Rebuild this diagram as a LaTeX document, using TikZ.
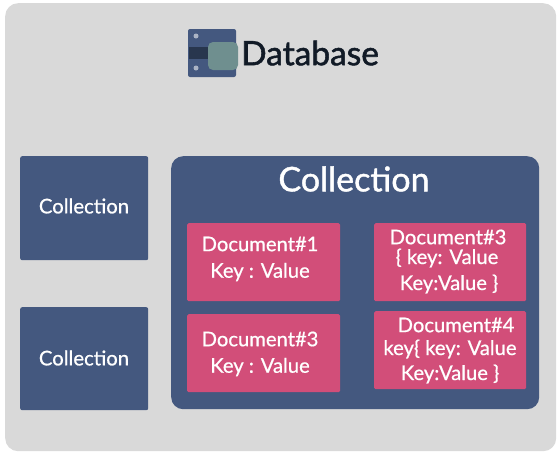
\documentclass[tikz,border=0pt]{standalone}
\usepackage{fontspec}
\setmainfont{Lato}[FakeBold=0.7]
\newfontfamily\headfont{Lato}[FakeBold=1.6]
\newfontfamily\bigfont{Lato}[FakeBold=1.2]
\definecolor{bg}{HTML}{D9D9D9}
\definecolor{navy}{HTML}{44587F}
\definecolor{rosered}{HTML}{D24E79}
\definecolor{teal2}{HTML}{6F8F8F}
\definecolor{ink}{HTML}{111A26}
\tikzset{
  coll/.style={fill=navy,rounded corners=2pt,anchor=north west,inner sep=0pt},
  docbox/.style={fill=rosered,rounded corners=1.5pt,anchor=north west,inner sep=0pt},
  wtext/.style={text=white,inner sep=0pt,font=\fontsize{20.3}{20.3}\selectfont},
  dtext/.style={text=white,inner sep=0pt,font=\fontsize{20.2}{20.2}\selectfont},
}
\begin{document}
\begin{tikzpicture}[x=1pt,y=-1pt]
\useasboundingbox (0,0) rectangle (560,453);
\fill[white] (0,0) rectangle (560,453);
\node[fill=bg,rounded corners=13pt,anchor=north west,inner sep=0pt,minimum width=551pt,minimum height=448pt] (panel) at (5,3) {};
% database icon
\fill[navy,rounded corners=2pt] (188,29) rectangle (236,77);
\fill[ink!55!navy] (189,47) rectangle (208,59);
\fill[teal2,rounded corners=5pt] (208,42) rectangle (238,70);
\fill[white!55!navy] (196,36) circle (2.5);
\fill[white!55!navy] (196,68) circle (2.5);
\node[anchor=west,inner sep=0pt,text=ink,font=\headfont\fontsize{33.5}{33.5}\selectfont] (dbtitle) at (241,53) {Database};
% left collections
\node[coll,minimum width=128pt,minimum height=104pt] (c1) at (20,156) {};
\node[wtext] (c1t) at (84,206) {Collection};
\node[coll,minimum width=128pt,minimum height=103pt] (c2) at (20,307) {};
\node[wtext] (c2t) at (84,358) {Collection};
% big collection
\node[fill=navy,rounded corners=12pt,anchor=north west,inner sep=0pt,minimum width=368pt,minimum height=253pt] (big) at (171,156) {};
\node[text=white,inner sep=0pt,font=\bigfont\fontsize{34}{34}\selectfont] (bigt) at (354,179) {Collection};
% documents
\node[docbox,minimum width=153pt,minimum height=78pt] (d1) at (187,223) {};
\node[dtext] (d1a) at (260,244) {Document\#1};
\node[dtext] (d1b) at (260,272) {Key : Value};
\node[docbox,minimum width=152pt,minimum height=78pt] (d2) at (374,223) {};
\node[dtext] (d2a) at (448,237) {Document\#3};
\node[dtext] (d2b) at (447,258) {\{ key: Value};
\node[dtext] (d2c) at (449,284) {Key:Value \}};
\node[docbox,minimum width=153pt,minimum height=78pt] (d3) at (187,314) {};
\node[dtext] (d3a) at (260,339) {Document\#3};
\node[dtext] (d3b) at (260,367) {Key : Value};
\node[docbox,minimum width=152pt,minimum height=78pt] (d4) at (374,311) {};
\node[dtext] (d4a) at (456,325) {Document\#4};
\node[dtext] (d4b) at (450,349) {key\{ key: Value};
\node[dtext] (d4c) at (450,374) {Key:Value \}};
\end{tikzpicture}
\end{document}
